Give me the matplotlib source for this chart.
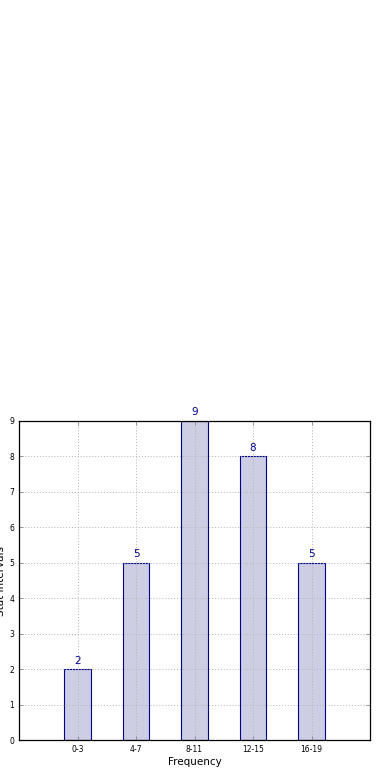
import matplotlib
matplotlib.use("Agg")
import matplotlib.pyplot as plt
import numpy as np

categories = ["0-3", "4-7", "8-11", "12-15", "16-19"]
values = [2, 5, 9, 8, 5]

fig = plt.figure(figsize=(3.9, 7.8), dpi=100)
fig.patch.set_facecolor("white")
ax = fig.add_axes([19/390, 1-740/780, (370-19)/390, (740-421)/780])
x = np.arange(len(categories))
ax.bar(x, values, width=0.45, color="#cdcde4", edgecolor="#00008b", linewidth=0.8, zorder=1)
for xi, v in zip(x, values):
    ax.text(xi, v + 0.1, str(v), ha="center", va="bottom", fontsize=7.5, color="#00008b")
ax.set_xlim(-1, 5)
ax.set_ylim(0, 9)
ax.set_xticks(x)
ax.set_xticklabels(categories, fontsize=5.5)
ax.set_yticks(range(0, 10))
ax.tick_params(axis="y", labelsize=5.5)
ax.tick_params(direction="in", top=True, right=True, length=3, width=0.6, color="#888888")
ax.grid(True, linestyle=(0, (1, 2)), color="#b4b4b4", linewidth=0.7, zorder=2)
ax.set_axisbelow(False)
for s in ax.spines.values():
    s.set_linewidth(0.9)
    s.set_zorder(3)
ax.set_xlabel("Frequency", fontsize=7.5, labelpad=2)
ax.set_ylabel("Stat Intervals", fontsize=7.5, labelpad=2)
fig.savefig("out.png", dpi=100, facecolor="white")
